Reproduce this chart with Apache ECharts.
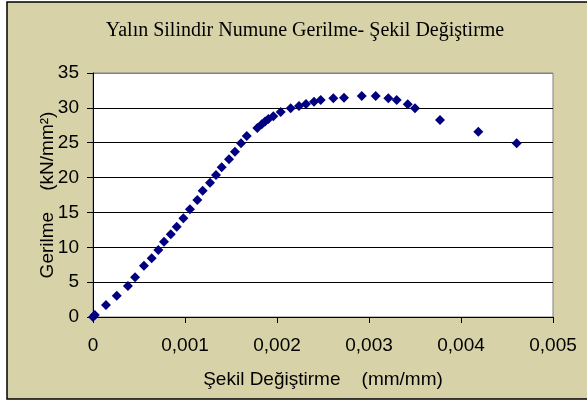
<!DOCTYPE html>
<html>
<head>
<meta charset="utf-8">
<script src="https://cdn.jsdelivr.net/npm/echarts@6/dist/echarts.min.js"></script>
<style>
  html, body { margin: 0; padding: 0; background: #fff; }
  #chart { width: 587px; height: 401px; }
</style>
</head>
<body>
<div id="chart"></div>
<script>
// strain (mm/mm) and stress (kN/mm²)
const strain = [0, 0.00002, 0.000141, 0.000258, 0.00038, 0.000457, 0.000554, 0.000638, 0.00071, 0.000772,
  0.000845, 0.00091, 0.000982, 0.001054, 0.001134, 0.001192, 0.001272, 0.001337, 0.001399, 0.001478,
  0.001543, 0.001609, 0.001671, 0.001786, 0.001834, 0.00187, 0.001906, 0.00196, 0.00204, 0.002149,
  0.002239, 0.002315, 0.002402, 0.002475, 0.002612, 0.002728, 0.002921, 0.003073, 0.00321, 0.003301,
  0.003421, 0.0035, 0.003772, 0.004188, 0.004605];
const stress = [0, 0.3, 1.72, 3.06, 4.45, 5.69, 7.36, 8.42, 9.61, 10.8,
  11.87, 12.96, 14.16, 15.45, 16.79, 18.12, 19.27, 20.37, 21.48, 22.63,
  23.72, 24.92, 25.97, 27.1, 27.65, 28.05, 28.41, 28.8, 29.4, 29.94,
  30.27, 30.56, 30.89, 31.13, 31.38, 31.46, 31.71, 31.71, 31.38, 31.13,
  30.52, 29.94, 28.26, 26.59, 24.92];

const title = 'Yalın Silindir Numune Gerilme- Şekil Değiştirme';
const xName = 'Şekil Değiştirme    (mm/mm)';
const yName = 'Gerilme    (kN/mm²)';

const points = strain.map((s, i) => [s, stress[i]]);

const chart = echarts.init(document.getElementById('chart'));

const labelFont = { fontFamily: 'Liberation Sans, Arial, sans-serif', fontSize: 19, color: '#000' };

chart.setOption({
  animation: false,
  backgroundColor: '#fff',
  graphic: [{
    type: 'rect',
    z: -10,
    shape: { x: 7, y: 2, width: 600, height: 397 },
    style: { fill: '#D8D2A9', stroke: '#000', lineWidth: 1.5 }
  }],
  title: {
    text: title,
    left: 300,
    top: 16,
    textAlign: 'center',
    textStyle: { fontFamily: 'Liberation Serif, Times New Roman, serif', fontSize: 20, fontWeight: 'normal', color: '#000' }
  },
  grid: {
    left: 93, top: 73, right: 34, bottom: 84,
    show: true,
    backgroundColor: '#fff',
    borderColor: '#808080',
    borderWidth: 1
  },
  xAxis: {
    type: 'value',
    min: 0, max: 0.005, interval: 0.001,
    name: xName,
    nameLocation: 'middle',
    nameGap: 53,
    nameMoveOverlap: false,
    nameTextStyle: labelFont,
    axisLine: { lineStyle: { color: '#000', width: 1 } },
    axisTick: { show: true, inside: false, length: 6, lineStyle: { color: '#000' } },
    axisLabel: Object.assign({ margin: 19, formatter: v => String(v).replace('.', ',') }, labelFont),
    splitLine: { show: false }
  },
  yAxis: {
    type: 'value',
    min: 0, max: 35, interval: 5,
    name: yName,
    nameLocation: 'middle',
    nameGap: 36,
    nameMoveOverlap: false,
    nameTextStyle: labelFont,
    axisLine: { show: true, lineStyle: { color: '#000', width: 1 } },
    axisTick: { show: true, inside: false, length: 6, lineStyle: { color: '#000' } },
    axisLabel: Object.assign({ margin: 14 }, labelFont),
    splitLine: {
      show: true,
      lineStyle: { color: ['#000', '#000', '#000', '#000', '#000', '#000', '#000', '#808080'], width: 1 }
    }
  },
  series: [{
    type: 'scatter',
    data: points,
    symbol: 'diamond',
    symbolSize: 10,
    itemStyle: { color: '#000080', opacity: 1 }
  }]
});
</script>
</body>
</html>
